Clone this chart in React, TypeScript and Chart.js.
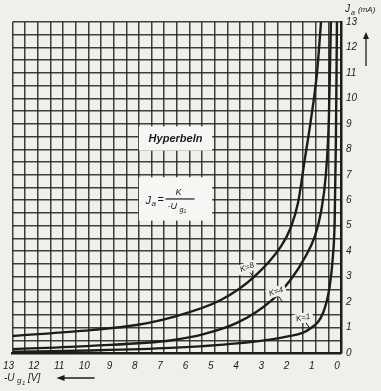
import React, { useEffect, useRef } from "react";
import { Chart, registerables } from "chart.js";

Chart.register(...registerables);

// Negative grid voltage -Ug1 [V] and anode current Ja [mA]
const k8X = [13, 9.9, 8.1, 6.7, 4.74, 3.43, 2.37, 2.0, 1.7, 1.45, 1.2, 0.95, 0.79];
const k8Y = [0.67, 0.9, 1.1, 1.4, 2.09, 3.0, 4.2, 4.9, 5.9, 7.5, 9.1, 11.0, 13];

const k4X = [13, 9.9, 6.7, 5.4, 4.08, 2.77, 1.98, 1.4, 1.03, 0.8, 0.6, 0.48, 0.4];
const k4Y = [0.15, 0.28, 0.5, 0.75, 1.2, 2.05, 2.9, 3.8, 4.6, 5.5, 7.0, 9.2, 13];

const k1X = [13, 9.9, 6.75, 4.12, 2.15, 1.23, 0.7, 0.45, 0.32, 0.25, 0.2, 0.16];
const k1Y = [0.05, 0.1, 0.2, 0.38, 0.64, 0.95, 1.6, 2.6, 3.8, 5.2, 8.5, 13];

const seriesLabels = ["K=8", "K=4", "K=1"];
const axisMin = 0;
const axisMax = 13;
const gridStep = 0.5;

const FONT = '"Liberation Sans", "DejaVu Sans", sans-serif';
const INK = "#1c1c1c";
const PAPER = "#efefec";

const toPoints = (xs: number[], ys: number[]) => xs.map((v, i) => ({ x: v, y: ys[i] }));

const overlayPlugin = {
  id: "overlay",
  afterDatasetsDraw(chart: any) {
    const { ctx, scales } = chart;
    const x = scales.x;
    const y = scales.y;
    ctx.save();
    ctx.fillStyle = "#f6f6f4";
    const box = (x0: number, x1: number, y0: number, y1: number) => {
      const px0 = x.getPixelForValue(x0);
      const px1 = x.getPixelForValue(x1);
      const py0 = y.getPixelForValue(y0);
      const py1 = y.getPixelForValue(y1);
      ctx.fillRect(px0, py0, px1 - px0, py1 - py0);
    };
    box(8.0, 5.1, 8.9, 7.95);
    box(8.0, 5.1, 6.9, 5.2);

    ctx.fillStyle = INK;
    ctx.strokeStyle = INK;
    ctx.textBaseline = "middle";
    ctx.textAlign = "center";
    ctx.font = `italic bold 11px ${FONT}`;
    ctx.fillText("Hyperbeln", x.getPixelForValue(6.55), y.getPixelForValue(8.42));

    // formula Ja = K / -Ug1
    const fx = x.getPixelForValue(6.55);
    const fy = y.getPixelForValue(6.05);
    ctx.textAlign = "left";
    ctx.font = `italic 11px ${FONT}`;
    ctx.fillText("J", fx - 30, fy + 2);
    ctx.font = `italic 8px ${FONT}`;
    ctx.fillText("a", fx - 24, fy + 5);
    ctx.font = `11px ${FONT}`;
    ctx.fillText("=", fx - 18, fy + 1);
    ctx.lineWidth = 1.2;
    ctx.beginPath();
    ctx.moveTo(fx - 10, fy);
    ctx.lineTo(fx + 19, fy);
    ctx.stroke();
    ctx.textAlign = "center";
    ctx.font = `italic 9px ${FONT}`;
    ctx.fillText("K", fx + 3, fy - 6);
    ctx.textAlign = "left";
    ctx.font = `italic 9px ${FONT}`;
    ctx.fillText("-U", fx - 8, fy + 8);
    ctx.font = `italic 7px ${FONT}`;
    ctx.fillText("g", fx + 4, fy + 11);
    ctx.font = `italic 5px ${FONT}`;
    ctx.fillText("1", fx + 8, fy + 13);

    // curve labels
    const lab = (text: string, vx: number, vy: number, rot: number, lx: number, ly: number) => {
      const px = x.getPixelForValue(vx);
      const py = y.getPixelForValue(vy);
      ctx.save();
      ctx.translate(px, py);
      ctx.rotate(rot);
      ctx.fillStyle = PAPER;
      ctx.fillRect(-10, -5, 20, 10);
      ctx.fillStyle = INK;
      ctx.font = `italic 8px ${FONT}`;
      ctx.textAlign = "center";
      ctx.fillText(text, 0, 0);
      ctx.restore();
      ctx.lineWidth = 1;
      ctx.beginPath();
      ctx.moveTo(px + 3, py + 5);
      ctx.lineTo(px + 3 + lx, py + 5 + ly);
      ctx.stroke();
    };
    lab(seriesLabels[0], 3.72, 3.36, -0.35, 3, 4);
    lab(seriesLabels[1], 2.57, 2.41, -0.3, 3, 5);
    lab(seriesLabels[2], 1.5, 1.38, -0.2, 4, 6);
    ctx.restore();
  },
  afterDraw(chart: any) {
    const { ctx, chartArea } = chart;
    ctx.save();
    ctx.fillStyle = INK;
    ctx.strokeStyle = INK;
    ctx.textBaseline = "alphabetic";
    ctx.textAlign = "left";
    // x title
    const bx = 4;
    const by = chartArea.bottom + 28;
    ctx.font = `italic 10px ${FONT}`;
    ctx.fillText("-U", bx, by);
    ctx.font = `italic 8px ${FONT}`;
    ctx.fillText("g", bx + 13, by + 2);
    ctx.font = `italic 6px ${FONT}`;
    ctx.fillText("1", bx + 18, by + 4);
    ctx.font = `italic 10px ${FONT}`;
    ctx.fillText("[V]", bx + 24, by);
    ctx.lineWidth = 1.3;
    ctx.beginPath();
    ctx.moveTo(chartArea.left + 46, by - 3);
    ctx.lineTo(chartArea.left + 82, by - 3);
    ctx.stroke();
    ctx.beginPath();
    ctx.moveTo(chartArea.left + 44, by - 3);
    ctx.lineTo(chartArea.left + 52, by - 6);
    ctx.lineTo(chartArea.left + 52, by);
    ctx.closePath();
    ctx.fill();
    // y title
    const tx = chartArea.right + 4;
    const ty = 12;
    ctx.font = `italic 10px ${FONT}`;
    ctx.fillText("J", tx, ty);
    ctx.font = `italic 7px ${FONT}`;
    ctx.fillText("a", tx + 6, ty + 3);
    ctx.font = `italic 8px ${FONT}`;
    ctx.fillText("(mA)", tx + 13, ty);
    ctx.beginPath();
    ctx.moveTo(chartArea.right + 25, chartArea.top + 44);
    ctx.lineTo(chartArea.right + 25, chartArea.top + 14);
    ctx.stroke();
    ctx.beginPath();
    ctx.moveTo(chartArea.right + 25, chartArea.top + 10);
    ctx.lineTo(chartArea.right + 22, chartArea.top + 17);
    ctx.lineTo(chartArea.right + 28, chartArea.top + 17);
    ctx.closePath();
    ctx.fill();
    ctx.restore();
  },
};

const bgPlugin = {
  id: "bg",
  beforeDraw(chart: any) {
    const { ctx, width, height } = chart;
    ctx.save();
    ctx.fillStyle = PAPER;
    ctx.fillRect(0, 0, width, height);
    ctx.restore();
  },
};

export default function App() {
  const ref = useRef<HTMLCanvasElement | null>(null);
  useEffect(() => {
    if (!ref.current) return;
    const lineStyle = {
      borderColor: INK,
      borderWidth: 2.4,
      pointRadius: 0,
      fill: false,
      cubicInterpolationMode: "monotone" as const,
    };
    const intLabel = (v: any) => (Math.abs(v - Math.round(v)) < 1e-6 ? String(Math.round(v)) : "");
    const chart = new Chart(ref.current, {
      type: "line",
      data: {
        datasets: [
          { label: seriesLabels[0], data: toPoints(k8X, k8Y), ...lineStyle },
          { label: seriesLabels[1], data: toPoints(k4X, k4Y), ...lineStyle },
          { label: seriesLabels[2], data: toPoints(k1X, k1Y), ...lineStyle },
        ],
      },
      options: {
        animation: false,
        responsive: false,
        parsing: false as any,
        layout: { padding: { left: 11, top: 22, right: 0, bottom: 0 } },
        plugins: { legend: { display: false }, tooltip: { enabled: false } },
        scales: {
          x: {
            type: "linear",
            reverse: true,
            min: axisMin,
            max: axisMax,
            afterFit: (s: any) => {
              s.height = 38;
            },
            grid: { color: "rgba(30,30,30,0.85)", lineWidth: 1.5, drawTicks: false },
            border: { display: true, color: INK, width: 2.5 },
            ticks: {
              stepSize: gridStep,
              autoSkip: false,
              maxRotation: 0,
              padding: 7,
              labelOffset: -4,
              color: INK,
              font: { family: FONT, size: 10, style: "italic" },
              callback: intLabel,
            },
          },
          y: {
            type: "linear",
            position: "right",
            min: axisMin,
            max: axisMax,
            afterFit: (s: any) => {
              s.width = 40;
            },
            grid: { color: "rgba(30,30,30,0.85)", lineWidth: 1.5, drawTicks: false },
            border: { display: true, color: INK, width: 2.5 },
            ticks: {
              stepSize: gridStep,
              autoSkip: false,
              padding: 5,
              color: INK,
              font: { family: FONT, size: 10, style: "italic" },
              callback: intLabel,
            },
          },
        },
      },
      plugins: [bgPlugin, overlayPlugin],
    });
    return () => chart.destroy();
  }, []);
  return (
    <div style={{ position: "fixed", left: 0, top: 0, width: 381, height: 391, background: PAPER }}>
      <canvas ref={ref} width={381} height={391} style={{ display: "block" }} />
    </div>
  );
}
